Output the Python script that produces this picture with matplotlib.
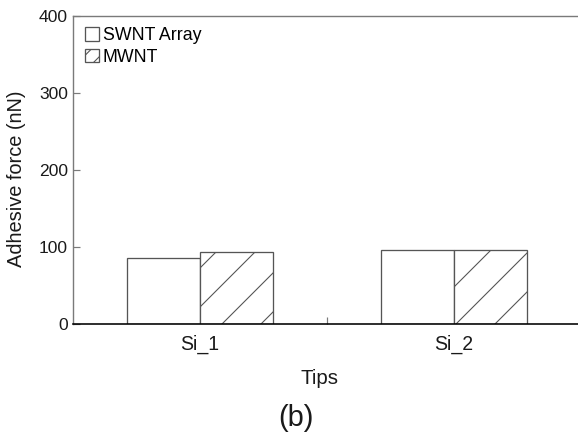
import matplotlib
matplotlib.use("Agg")
import matplotlib.pyplot as plt
from matplotlib.patches import Patch
import numpy as np

# adhesive force per tip, in nN
tips = ["Si_1", "Si_2"]
swnt_array = [85, 96]
mwnt = [94, 96]

DPI = 234  # hatch cell scales with dpi, so this sets the stripe spacing


def px(n):
    # pixels -> points at this dpi
    return n * 72 / DPI


plt.rcParams["font.family"] = ["Liberation Sans", "DejaVu Sans"]
plt.rcParams["hatch.linewidth"] = px(1.1)

edge = "#555555"
spine_gray = "#7a7a7a"
text_col = "#1a1a1a"

fig = plt.figure(figsize=(578 / DPI, 433 / DPI), dpi=DPI)
ax = fig.add_axes([73 / 578, 109 / 433, 508 / 578, 308.5 / 433])

x = np.arange(1, len(tips) + 1)
w = 0.287
ax.bar(x - w, swnt_array, w, align="edge", facecolor="white",
       edgecolor=edge, linewidth=px(1.3))
ax.bar(x, mwnt, w, align="edge", facecolor="white", edgecolor=edge,
       hatch="//", linewidth=px(1.3))

ax.set_xlim(0.5, 2.5)
ax.set_ylim(0, 400)
ax.set_yticks([0, 100, 200, 300, 400])
ax.set_xticks(x)
ax.set_xticklabels(tips)
ax.set_xticks([1.5], minor=True)
ax.tick_params(axis="x", which="major", length=0, pad=px(11),
               labelsize=px(19.5), labelcolor=text_col)
ax.tick_params(axis="x", which="minor", direction="in", length=px(7),
               width=px(1.2), color=spine_gray)
ax.tick_params(axis="y", direction="in", length=px(7), width=px(1.2),
               color=spine_gray, pad=px(5), labelsize=px(17.5),
               labelcolor=text_col)

for side in ("left", "top"):
    ax.spines[side].set_color(spine_gray)
    ax.spines[side].set_linewidth(px(1.4))
ax.spines["bottom"].set_color("black")
ax.spines["bottom"].set_linewidth(px(1.6))
ax.spines["right"].set_visible(False)

ax.set_xlabel("Tips", fontsize=px(20.5), color=text_col)
ax.xaxis.set_label_coords(0.486, -0.147)
ax.set_ylabel("Adhesive force (nN)", fontsize=px(20), color=text_col)
ax.yaxis.set_label_coords(-0.092, 0.47)

# legend boxes are small, so they get a finer stripe
handles = [
    Patch(facecolor="white", edgecolor=edge, linewidth=px(1.3),
          label="SWNT Array"),
    Patch(facecolor="white", edgecolor=edge, linewidth=px(1.3),
          hatch="/////", label="MWNT"),
]
ax.legend(handles=handles, loc="upper left", bbox_to_anchor=(0.024, 0.962),
          frameon=False, fontsize=px(17.8), handlelength=0.76,
          handleheight=0.76, handletextpad=0.22, labelspacing=0.26,
          borderpad=0, borderaxespad=0)

fig.text(296 / 578, 1 - 418 / 433, "(b)", ha="center", va="center",
         fontsize=px(29), color=text_col)

fig.savefig("out.png", dpi=DPI)
